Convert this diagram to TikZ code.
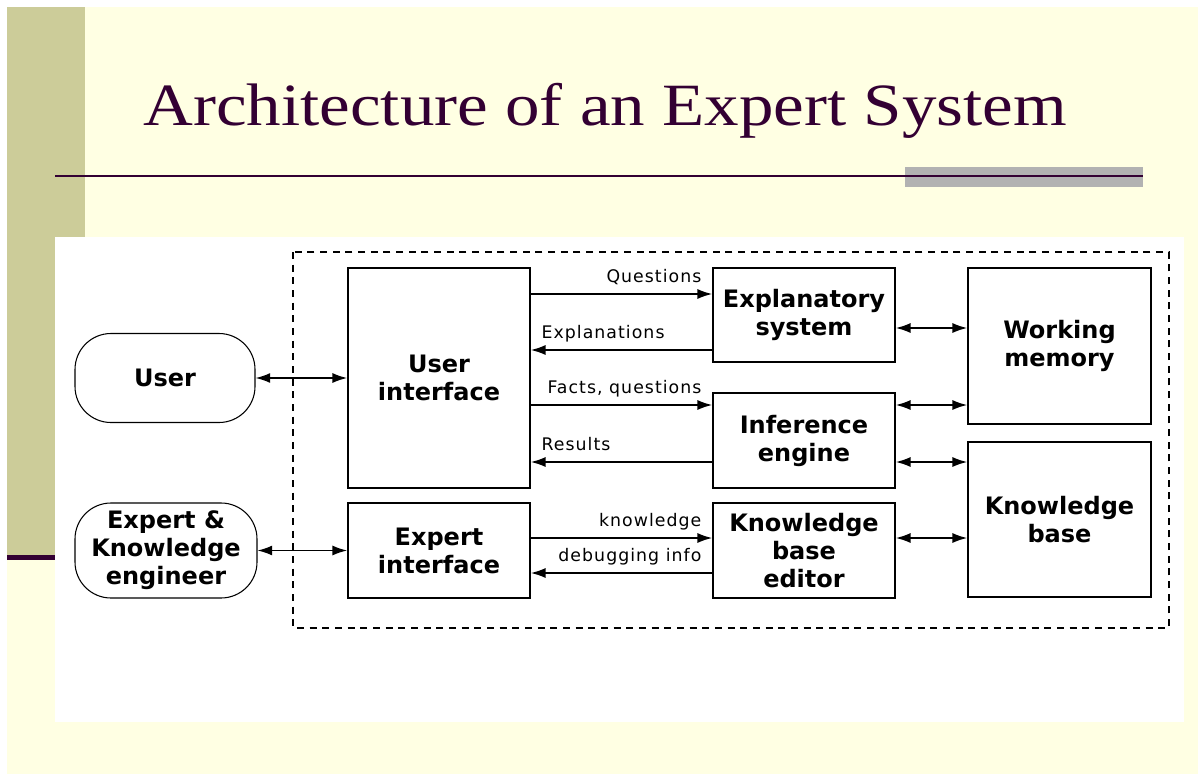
\documentclass[tikz,border=0pt]{standalone}
\usepackage{fontspec}
\usetikzlibrary{arrows.meta}
\newfontfamily\titlefont[FakeStretch=1.15]{Liberation Serif}
\newfontfamily\boxfont{DejaVu Sans}
\newfontfamily\tagfont[LetterSpace=6]{DejaVu Sans}
\definecolor{slidecream}{HTML}{FFFFE3}
\definecolor{slidekhaki}{HTML}{CCCC99}
\definecolor{slideplum}{HTML}{330033}
\definecolor{slidegray}{HTML}{B2B2B2}
\tikzset{
  unit/.style={draw, line width=1.3pt, inner sep=2pt, minimum width=136.5pt,
    align=center, font=\boxfont\bfseries\fontsize{18}{21}\selectfont},
  agent/.style={draw, line width=0.8pt, inner sep=2pt, rounded corners=27pt,
    align=center, font=\boxfont\bfseries\fontsize{18}{21}\selectfont},
  flow/.style={line width=1.1pt, -{Latex[length=11pt,width=7.5pt]}},
  duplex/.style={line width=1.1pt,
    {Latex[length=11pt,width=7.5pt]}-{Latex[length=11pt,width=7.5pt]}},
  lbl/.style={font=\tagfont\fontsize{13}{15}\selectfont, inner sep=0pt, yshift=8.5pt},
  endtag/.style={lbl, pos=1, anchor=base east, xshift=-7.5pt},
  backtag/.style={lbl, pos=1, anchor=base west, xshift=7.5pt},
  starttag/.style={lbl, pos=0, anchor=base east, xshift=-7.5pt},
}
\begin{document}
\begin{tikzpicture}[x=0.75pt, y=-0.75pt]
  \useasboundingbox (0,0) rectangle (1198,774);
  % slide
  \fill[white] (0,0) rectangle (1198,774);
  \fill[slidecream] (7,7) rectangle (1198,774);
  \fill[slidekhaki] (7,7) rectangle (85,555);
  \fill[slideplum] (7,555) rectangle (85,560);
  \fill[slidegray] (905,167) rectangle (1143,187);
  \draw[slideplum, line width=1.5pt] (55,176) -- (1143,176);
  \node[text=slideplum, inner sep=0pt, anchor=base west,
    font=\titlefont\fontsize{45}{54}\selectfont] (title) at (143,125)
    {Architecture of an Expert System};
  \fill[white] (55,237) rectangle (1184,722);
  \draw[line width=1.5pt, dash pattern=on 5.25pt off 4.25pt] (293,252) rectangle (1169,628);

  % outside the system
  \node[agent, minimum width=135pt, minimum height=66.75pt] (user) at (165,378) {User};
  \node[agent, minimum width=136.5pt, minimum height=71.25pt] (expert) at (166,550.5)
    {Expert \&\\Knowledge\\engineer};

  % the system
  \node[unit, minimum height=165pt] (ui) at (439,378) {User\\interface};
  \node[unit, minimum height=71.25pt] (xi) at (439,550.5) {Expert\\interface};
  \node[unit, minimum height=70.5pt] (xs) at (804,315) {Explanatory\\system};
  \node[unit, minimum height=71.25pt] (ie) at (804,440.5) {Inference\\engine};
  \node[unit, minimum height=71.25pt] (kbe) at (804,550.5) {Knowledge\\base\\editor};
  \node[unit, minimum width=137.25pt, minimum height=117pt] (wm) at (1059.5,346)
    {Working\\memory};
  \node[unit, minimum width=137.25pt, minimum height=116.25pt] (kb) at (1059.5,519.5)
    {Knowledge\\base};

  % rows of the connectors
  \coordinate (qrow) at (0,294);
  \coordinate (mrow) at (0,328);
  \coordinate (erow) at (0,350);
  \coordinate (frow) at (0,405);
  \coordinate (rrow) at (0,462);
  \coordinate (krow) at (0,538);
  \coordinate (drow) at (0,573);

  \draw[duplex] (user.east) -- (ui.west);
  \draw[duplex] (expert.east) -- (xi.west);
  \draw[flow] (ui.east |- qrow) -- node[endtag] {Questions} (xs.west |- qrow);
  \draw[flow] (xs.west |- erow) -- node[backtag] {Explanations} (ui.east |- erow);
  \draw[flow] (ui.east |- frow) -- node[endtag] {Facts, questions} (ie.west |- frow);
  \draw[flow] (ie.west |- rrow) -- node[backtag] {Results} (ui.east |- rrow);
  \draw[flow] (xi.east |- krow) -- node[endtag] {knowledge} (kbe.west |- krow);
  \draw[flow] (kbe.west |- drow) -- node[starttag] {debugging info} (xi.east |- drow);
  \draw[duplex] (xs.east |- mrow) -- (wm.west |- mrow);
  \draw[duplex] (ie.east |- frow) -- (wm.west |- frow);
  \draw[duplex] (ie.east |- rrow) -- (kb.west |- rrow);
  \draw[duplex] (kbe.east |- krow) -- (kb.west |- krow);
\end{tikzpicture}
\end{document}
